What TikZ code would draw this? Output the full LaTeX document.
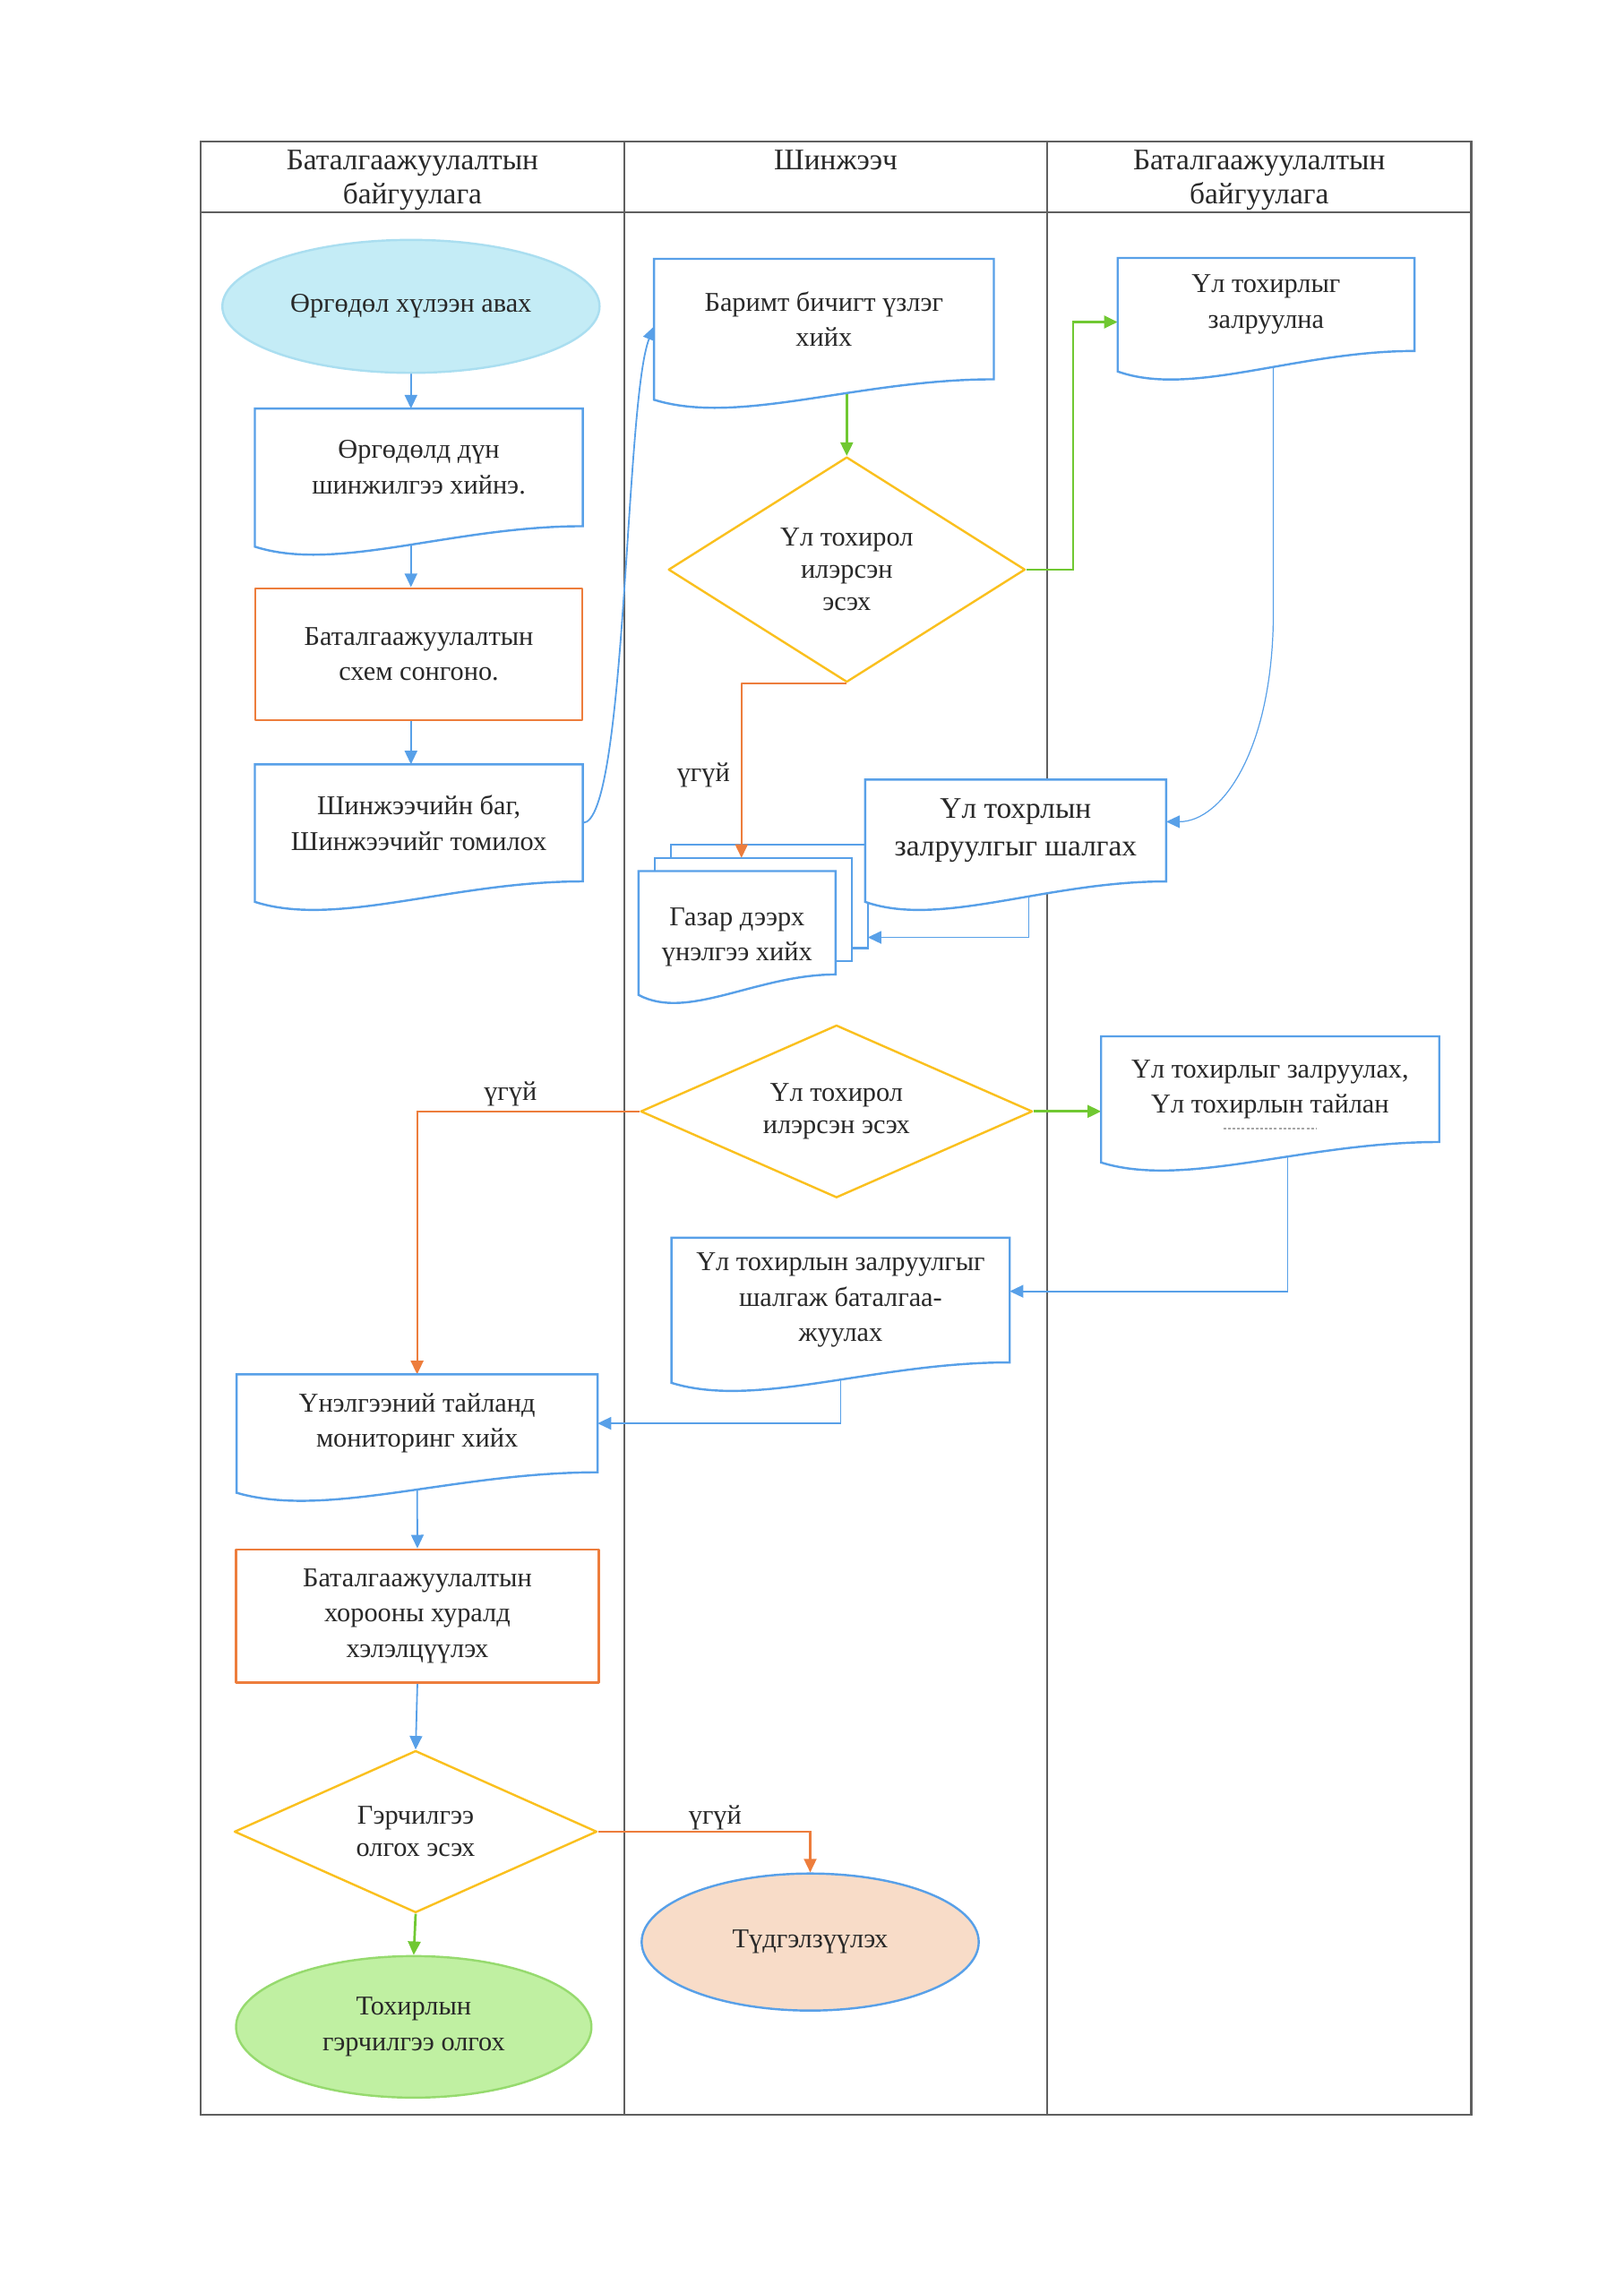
\documentclass[tikz,border=0pt]{standalone}
\usepackage{fontspec}
\setmainfont{Liberation Serif}
\usepackage{pgf,tikz}
\usetikzlibrary{arrows.meta,shapes.geometric,calc}

\definecolor{lineblue}{RGB}{88,160,232}
\definecolor{boxorange}{RGB}{237,125,60}
\definecolor{diayellow}{RGB}{250,192,30}
\definecolor{arrgreen}{RGB}{112,200,50}
\definecolor{cyanfill}{RGB}{196,236,246}
\definecolor{cyanline}{RGB}{170,222,240}
\definecolor{greenfill}{RGB}{192,240,162}
\definecolor{greenline}{RGB}{150,218,110}
\definecolor{peachfill}{RGB}{248,220,200}
\definecolor{lanegray}{RGB}{95,95,95}
\definecolor{txtgray}{RGB}{40,40,40}

\pgfdeclarelayer{bg}
\pgfdeclarelayer{docs}
\pgfsetlayers{bg,docs,main}

\tikzset{
  every node/.style={font=\fontsize{10}{13}\selectfont, text=txtgray},
  head/.style={anchor=north, align=center, font=\fontsize{11}{12.5}\selectfont},
  lane/.style={draw=lanegray, line width=0.7pt},
  docu/.style={rectangle, align=center, inner sep=0pt},
  docline/.style={draw=lineblue, line width=0.8pt, fill=white},
  docout/.style={insert path={(#1.north west) -- (#1.north east) -- (#1.south east)
      .. controls ($(#1.south west)!0.6!(#1.south east)$) and ($(#1.south west)!0.25!(#1.south east)+(0,32)$)
      .. ($(#1.south west)+(0,14)$) -- cycle}},
  proc/.style={rectangle, draw=boxorange, line width=0.8pt, fill=white, align=center},
  decide/.style={diamond, aspect=2, draw=diayellow, line width=0.8pt, fill=white, align=center, inner sep=0pt,
    font=\fontsize{10}{11.8}\selectfont},
  term/.style={ellipse, align=center, line width=0.8pt},
  blueline/.style={draw=lineblue, line width=0.6pt, ->},
  greenline/.style={draw=arrgreen, line width=0.9pt, ->},
  orangeline/.style={draw=boxorange, line width=0.7pt, ->},
  lbl/.style={font=\fontsize{10}{12}\selectfont}
}

\begin{document}
\begin{tikzpicture}[x=0.01892cm, y=-0.01892cm, line join=round, >={Triangle[length=5pt,width=4.6pt]}]
  \useasboundingbox (0,0) rectangle (1110,1568);

  \begin{pgfonlayer}{bg}
    \draw[lane] (137,97) rectangle (1006,1446);
    \draw[lane] (137,145) -- (1006,145);
    \foreach \lx in {427,716}
      \draw[lane] (\lx,97) -- (\lx,1446);
  \end{pgfonlayer}

  \node[head] (h1) at (282,96) {Баталгаажуулалтын\\байгуулага};
  \node[head] (h2) at (571.5,96) {Шинжээч};
  \node[head] (h3) at (861,96) {Баталгаажуулалтын\\байгуулага};

  \node[term, fill=cyanfill, draw=cyanline, minimum width=4.88cm, minimum height=1.72cm] (e1) at (281,209.5) {Өргөдөл хүлээн авах};
  \node[docu, minimum width=4.23cm, minimum height=1.508cm] (d1) at (286.4,319.6) {Өргөдөлд дүн\\шинжилгээ хийнэ.};
  \node[proc, minimum width=4.23cm, minimum height=1.705cm] (p3) at (286.4,447.3) {Баталгаажуулалтын\\схем сонгоно.};
  \node[docu, minimum width=4.23cm, minimum height=1.50cm] (d2) at (286.4,562.7) {Шинжээчийн баг,\\Шинжээчийг томилох};
  \node[docu, minimum width=4.382cm, minimum height=1.544cm] (d3) at (563.4,218.2) {Баримт бичигт үзлэг\\хийх};
  \node[decide, minimum width=4.616cm, minimum height=2.914cm] (dia1) at (579,389.5) {Үл тохирол\\илэрсэн\\эсэх};
  \node[docu, minimum width=3.826cm, minimum height=1.19cm] (d4) at (865.7,208.2) {Үл тохирлыг\\залруулна};
  \node[docu, minimum width=2.535cm, minimum height=1.324cm] (gz) at (504,631) {\rule{0pt}{17pt}Газар дээрх\\үнэлгээ хийх};
  \node[docu, minimum width=3.879cm, minimum height=1.304cm, font=\fontsize{11}{14}\selectfont] (d9) at (694.5,567.9) {Үл тохрлын\\залруулгыг шалгах};
  \node[decide, minimum width=5.07cm, minimum height=2.233cm] (dia2) at (572,760) {Үл тохирол\\илэрсэн эсэх};
  \node[docu, minimum width=4.361cm, minimum height=1.353cm] (d11) at (868.5,744.8) {Үл тохирлыг залруулах,\\Үл тохирлын тайлан};
  \node[docu, minimum width=4.361cm, minimum height=1.599cm] (d12) at (574.8,889) {Үл тохирлын залруулгыг\\шалгаж баталгаа-\\жуулах};
  \node[docu, minimum width=4.656cm, minimum height=1.253cm] (d13) at (285.2,973.3) {Үнэлгээний тайланд\\мониторинг хийх};
  \node[proc, minimum width=4.692cm, minimum height=1.72cm] (p14) at (285.4,1105) {Баталгаажуулалтын\\хорооны хуралд\\хэлэлцүүлэх};
  \node[decide, minimum width=4.692cm, minimum height=2.096cm] (dia3) at (284.2,1252.5) {Гэрчилгээ\\олгох эсэх};
  \node[term, fill=greenfill, draw=greenline, minimum width=4.598cm, minimum height=1.831cm] (e16) at (282.9,1386) {Тохирлын\\гэрчилгээ олгох};
  \node[term, fill=peachfill, draw=lineblue, minimum width=4.361cm, minimum height=1.773cm] (e17) at (554,1328) {Түдгэлзүүлэх};

  \node[lbl] (no1) at (481,530) {үгүй};
  \node[lbl] (no2) at (349,748) {үгүй};
  \node[lbl] (no3) at (489,1243) {үгүй};

  \begin{pgfonlayer}{docs}
    \path[docline] ($(gz.north west)+(22,-18)$) rectangle ($(gz.south east)+(22,-18)$);
    \path[docline] ($(gz.north west)+(11,-9)$) rectangle ($(gz.south east)+(11,-9)$);
    \foreach \n in {d1,d2,d3,d4,gz,d9,d11,d12,d13}
      \path[docline, docout=\n];
  \end{pgfonlayer}
  \draw[gray!70, line width=0.4pt, dash pattern=on 1pt off 0.7pt] ($(d11.center)+(-32,27)$) -- ++(64,0);
  \draw[orangeline] (dia1.south) -| ($(gz.north)+(3,-9)$);

  \begin{pgfonlayer}{bg}
    \draw[blueline] (e1.south) -- (e1.south |- d1.north);
    \draw[blueline] (e1.south |- d1.south) -- (e1.south |- p3.north);
    \draw[blueline] (e1.south |- p3.south) -- (e1.south |- d2.north);
    \draw[blueline] (d2.east) .. controls +(30,0) and +(-20,50) .. ($(d3.west)+(0,5)$);
    \draw[greenline] (dia1.north |- d3.south) -- (dia1.north);
    \draw[greenline] (dia1.east) -- ++(32,0) |- ($(d4.west)+(0,12)$);
    \draw[blueline, line width=0.4pt] ($(d4.south)+(5,0)$) -- ++(0,178) .. controls +(0,95) and +(38,0) .. ($(d9.east)+(0,-6)$);
    \draw[blueline] ($(d9.south)+(9,0)$) |- ($(gz.east)+(22,10)$);
    \draw[greenline] (dia2.east) -- (dia2.east -| d11.west);
    \draw[orangeline] (dia2.west) -| (d13.north);
    \draw[blueline] ($(d11.south)+(12,0)$) |- ($(d12.east)+(0,-6)$);
    \draw[blueline] (d12.south) |- (d13.east);
    \draw[blueline] (d13.south) -- (p14.north);
    \draw[blueline] (p14.south) -- (dia3.north);
    \draw[greenline] (dia3.south) -- (e16.north);
    \draw[orangeline] (dia3.east) -| (e17.north);
  \end{pgfonlayer}
\end{tikzpicture}
\end{document}
